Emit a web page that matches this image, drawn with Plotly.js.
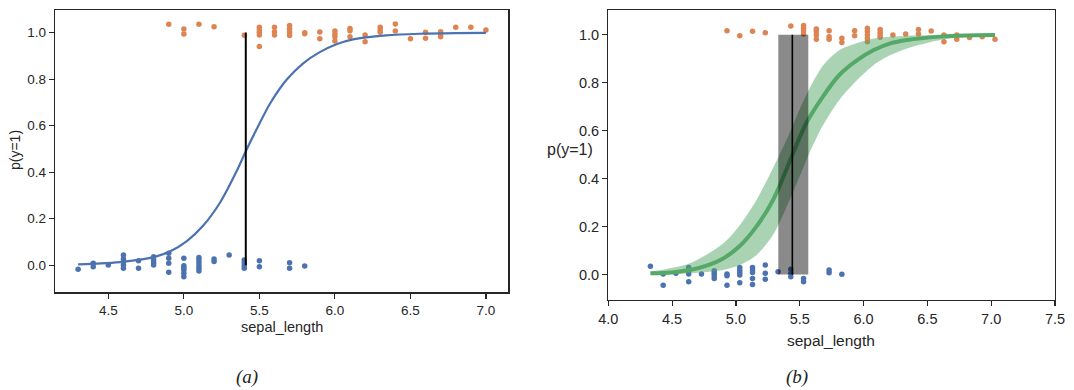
<!DOCTYPE html>
<html>
<head>
<meta charset="utf-8">
<script src="https://cdn.plot.ly/plotly-3.0.1.min.js"></script>
<style>html,body{margin:0;padding:0;background:#fff;}#chart{width:1074px;height:390px;}</style>
</head>
<body>
<div id="chart"></div>
<script>
// ---------- panel (a) ----------
var aClass0X = [4.3, 4.4, 4.4, 4.5, 4.6, 4.6, 4.6, 4.6, 4.6, 4.7, 4.7, 4.8, 4.8, 4.8, 4.8, 4.9, 4.9, 4.9, 4.9, 5.0, 5.0, 5.0, 5.0, 5.0, 5.0, 5.1, 5.1, 5.1, 5.1, 5.1, 5.1, 5.2, 5.2, 5.3, 5.4, 5.4, 5.4, 5.4, 5.5, 5.5, 5.7, 5.7, 5.8];
var aClass0Y = [-0.017, 0.009, -0.006, 0.001, 0.044, 0.027, 0.016, 0.001, -0.013, 0.02, -0.013, 0.037, 0.023, 0.011, 0.001, 0.052, 0.03, 0.009, -0.03, 0.03, -0.002, -0.01, -0.02, -0.034, -0.049, 0.034, 0.023, 0.011, -0.002, -0.013, -0.024, 0.027, 0.016, 0.044, 0.023, 0.011, -0.002, -0.013, 0.02, -0.006, 0.011, -0.013, -0.003];
var aClass1X = [4.9, 5.0, 5.0, 5.1, 5.2, 5.4, 5.5, 5.5, 5.5, 5.5, 5.5, 5.6, 5.6, 5.6, 5.7, 5.7, 5.7, 5.7, 5.8, 5.8, 5.9, 5.9, 6.0, 6.0, 6.0, 6.0, 6.1, 6.1, 6.1, 6.2, 6.2, 6.3, 6.3, 6.3, 6.4, 6.4, 6.5, 6.6, 6.6, 6.7, 6.7, 6.7, 6.8, 6.9, 7.0];
var aClass1Y = [1.036, 1.015, 0.994, 1.036, 1.025, 0.988, 1.023, 1.011, 1.001, 0.99, 0.94, 1.023, 1.004, 0.99, 1.03, 1.015, 1.001, 0.987, 0.999, 0.995, 1.003, 0.973, 1.007, 0.994, 0.982, 0.964, 1.018, 1.008, 0.982, 0.99, 0.961, 1.023, 1.011, 1.001, 1.037, 1.007, 0.974, 1.001, 0.976, 1.004, 0.99, 0.982, 1.023, 1.023, 1.011];
var aCurveX = [4.3, 4.45, 4.58, 4.7, 4.8, 4.91, 5.02, 5.13, 5.24, 5.35, 5.41, 5.48, 5.57, 5.68, 5.79, 5.9, 6.01, 6.12, 6.34, 6.56, 6.8, 7.0];
var aCurveY = [0.004, 0.008, 0.014, 0.023, 0.035, 0.06, 0.104, 0.172, 0.27, 0.405, 0.49, 0.582, 0.694, 0.797, 0.868, 0.916, 0.95, 0.971, 0.988, 0.995, 0.998, 0.999];
var aBoundary = 5.41;

// ---------- panel (b) ----------
var bClass0X = [4.33, 4.43, 4.43, 4.53, 4.63, 4.63, 4.63, 4.63, 4.73, 4.83, 4.83, 4.83, 4.83, 4.93, 4.93, 4.93, 5.03, 5.03, 5.03, 5.03, 5.03, 5.13, 5.13, 5.13, 5.13, 5.13, 5.23, 5.23, 5.23, 5.33, 5.43, 5.43, 5.43, 5.53, 5.53, 5.73, 5.73, 5.83];
var bClass0Y = [0.035, 0.002, -0.044, 0.005, 0.03, 0.016, 0.002, -0.03, 0.002, 0.016, 0.005, -0.005, -0.016, 0.002, -0.005, -0.044, 0.03, 0.019, 0.009, -0.002, -0.034, 0.03, 0.019, 0.009, -0.016, -0.041, 0.04, 0.005, -0.02, 0.012, 0.022, 0.005, -0.009, -0.016, -0.03, 0.019, 0.008, 0.001];
var bClass1X = [4.93, 5.03, 5.13, 5.23, 5.43, 5.53, 5.53, 5.53, 5.53, 5.63, 5.63, 5.63, 5.63, 5.73, 5.73, 5.73, 5.83, 5.83, 5.93, 5.93, 6.03, 6.03, 6.03, 6.03, 6.03, 6.13, 6.13, 6.13, 6.13, 6.23, 6.33, 6.43, 6.43, 6.53, 6.63, 6.63, 6.73, 6.73, 6.83, 6.93, 7.03];
var bClass1Y = [1.017, 0.996, 1.014, 1.008, 1.036, 1.038, 1.027, 1.017, 1.003, 1.024, 1.013, 0.999, 0.981, 1.017, 0.992, 0.981, 0.985, 0.968, 1.017, 0.996, 1.027, 1.013, 0.999, 0.985, 0.971, 1.022, 1.01, 0.999, 0.989, 0.999, 1.003, 1.022, 1.003, 1.015, 0.999, 0.971, 0.999, 0.981, 0.988, 0.992, 0.981];
var bCurveX = [4.33, 4.5, 4.64, 4.77, 4.9, 5.03, 5.16, 5.29, 5.42, 5.45, 5.55, 5.68, 5.81, 5.95, 6.08, 6.21, 6.34, 6.6, 6.8, 7.03];
var bCurveY = [0.005, 0.009, 0.019, 0.037, 0.067, 0.119, 0.2, 0.31, 0.47, 0.51, 0.63, 0.741, 0.832, 0.894, 0.936, 0.964, 0.978, 0.992, 0.997, 0.999];
var bBandX = [4.33, 4.64, 4.9, 5.03, 5.16, 5.29, 5.42, 5.5, 5.57, 5.68, 5.81, 5.95, 6.08, 6.21, 6.34, 6.6, 6.8, 7.03];
var bBandUpper = [0.012, 0.047, 0.13, 0.206, 0.31, 0.443, 0.589, 0.69, 0.77, 0.87, 0.935, 0.965, 0.984, 0.992, 0.996, 0.999, 1.0, 1.0];
var bBandLower = [0.001, 0.005, 0.019, 0.04, 0.081, 0.165, 0.31, 0.41, 0.5, 0.62, 0.728, 0.811, 0.874, 0.915, 0.943, 0.978, 0.99, 0.996];
var bBoundary = 5.442;
var bBoundaryHdi = [5.332, 5.567];

var xTicksA = [4.5, 5.0, 5.5, 6.0, 6.5, 7.0];
var xTicksB = [4.0, 4.5, 5.0, 5.5, 6.0, 6.5, 7.0, 7.5];
var yTicksA = [0.0, 0.2, 0.4, 0.6, 0.8, 1.0];
var yTicksB = [0.0, 0.2, 0.4, 0.6, 0.8, 1.0];

var BLUE = '#4c72b0', ORANGE = '#dd8452', GREEN = '#55a868', INK = '#262626';

function pts(x, y, c, xa, ya) {
  return {x: x, y: y, xaxis: xa, yaxis: ya, type: 'scatter', mode: 'markers',
    marker: {color: c, size: 5.5, line: {width: 0}}, hoverinfo: 'skip', showlegend: false};
}

var traces = [];
// (a)
traces.push(pts(aClass0X, aClass0Y, BLUE, 'x', 'y'));
traces.push(pts(aClass1X, aClass1Y, ORANGE, 'x', 'y'));
traces.push({x: aCurveX, y: aCurveY, xaxis: 'x', yaxis: 'y', type: 'scatter', mode: 'lines',
  line: {color: BLUE, width: 2.2, shape: 'spline', smoothing: 0.8}, showlegend: false});
traces.push({x: [aBoundary, aBoundary], y: [0, 1], xaxis: 'x', yaxis: 'y', type: 'scatter', mode: 'lines',
  line: {color: '#000', width: 2}, showlegend: false});

// (b)
traces.push(pts(bClass0X, bClass0Y, BLUE, 'x2', 'y2'));
traces.push(pts(bClass1X, bClass1Y, ORANGE, 'x2', 'y2'));
traces.push({x: bBandX, y: bBandLower, xaxis: 'x2', yaxis: 'y2', type: 'scatter', mode: 'lines',
  line: {width: 0, shape: 'spline', smoothing: 0.8}, showlegend: false, hoverinfo: 'skip'});
traces.push({x: bBandX, y: bBandUpper, xaxis: 'x2', yaxis: 'y2', type: 'scatter', mode: 'lines',
  fill: 'tonexty', fillcolor: 'rgba(85,168,104,0.5)',
  line: {width: 0, shape: 'spline', smoothing: 0.8}, showlegend: false, hoverinfo: 'skip'});
traces.push({x: bCurveX, y: bCurveY, xaxis: 'x2', yaxis: 'y2', type: 'scatter', mode: 'lines',
  line: {color: GREEN, width: 4, shape: 'spline', smoothing: 0.8}, showlegend: false});
traces.push({x: [bBoundaryHdi[0], bBoundaryHdi[1], bBoundaryHdi[1], bBoundaryHdi[0], bBoundaryHdi[0]],
  y: [0, 0, 1, 1, 0], xaxis: 'x2', yaxis: 'y2', type: 'scatter', mode: 'lines',
  fill: 'toself', fillcolor: 'rgba(0,0,0,0.46)', line: {width: 0}, showlegend: false, hoverinfo: 'skip'});
traces.push({x: [bBoundary, bBoundary], y: [0, 1], xaxis: 'x2', yaxis: 'y2', type: 'scatter', mode: 'lines',
  line: {color: '#000', width: 1.6}, showlegend: false});

function axis(extra) {
  var a = {showgrid: false, zeroline: false, showline: true, mirror: true, linecolor: INK, linewidth: 1.3,
    ticks: 'outside', ticklen: 5, tickwidth: 1.2, tickcolor: INK, tickmode: 'array',
    tickfont: {family: 'Liberation Sans, Arial, sans-serif', size: 13.5, color: INK}, fixedrange: true};
  for (var k in extra) a[k] = extra[k];
  return a;
}
function lab(v) { return v.map(function (t) { return t.toFixed(1); }); }

var fontS = 'Liberation Sans, Arial, sans-serif';
var layout = {
  width: 1074, height: 390, margin: {l: 0, r: 0, t: 0, b: 0},
  paper_bgcolor: '#fff', plot_bgcolor: '#fff', showlegend: false,
  xaxis: axis({domain: [55 / 1074, 508.3 / 1074], range: [4.147, 7.148], tickvals: xTicksA, ticktext: lab(xTicksA), anchor: 'y'}),
  yaxis: axis({domain: [(390 - 292.3) / 390, (390 - 10) / 390], range: [-0.116, 1.097], tickvals: yTicksA, ticktext: lab(yTicksA), anchor: 'x'}),
  xaxis2: axis({domain: [608.3 / 1074, 1055 / 1074], range: [4.0, 7.5], tickvals: xTicksB, ticktext: lab(xTicksB), anchor: 'y2',
    tickfont: {family: fontS, size: 14.5, color: INK}}),
  yaxis2: axis({domain: [(390 - 300) / 390, (390 - 10) / 390], range: [-0.106, 1.103], tickvals: yTicksB, ticktext: lab(yTicksB), anchor: 'x2',
    tickfont: {family: fontS, size: 14.5, color: INK}}),
  annotations: [
    {text: 'sepal_length', xref: 'paper', yref: 'paper', x: 282 / 1074, y: (390 - 327) / 390, showarrow: false,
      xanchor: 'center', yanchor: 'middle', font: {family: fontS, size: 14.5, color: INK}},
    {text: 'p(y=1)', xref: 'paper', yref: 'paper', x: 15 / 1074, y: (390 - 150) / 390, showarrow: false, textangle: -90,
      xanchor: 'center', yanchor: 'middle', font: {family: fontS, size: 14, color: INK}},
    {text: 'sepal_length', xref: 'paper', yref: 'paper', x: 831 / 1074, y: (390 - 340) / 390, showarrow: false,
      xanchor: 'center', yanchor: 'middle', font: {family: fontS, size: 15.5, color: INK}},
    {text: 'p(y=1)', xref: 'paper', yref: 'paper', x: 570 / 1074, y: (390 - 149) / 390, showarrow: false,
      xanchor: 'center', yanchor: 'middle', font: {family: fontS, size: 16, color: INK}},
    {text: '<i>(a)</i>', xref: 'paper', yref: 'paper', x: 247 / 1074, y: (390 - 377) / 390, showarrow: false,
      xanchor: 'center', yanchor: 'middle', font: {family: 'Liberation Serif, Times New Roman, serif', size: 19, color: '#222'}},
    {text: '<i>(b)</i>', xref: 'paper', yref: 'paper', x: 797 / 1074, y: (390 - 377) / 390, showarrow: false,
      xanchor: 'center', yanchor: 'middle', font: {family: 'Liberation Serif, Times New Roman, serif', size: 19, color: '#222'}}
  ]
};

Plotly.newPlot('chart', traces, layout, {displayModeBar: false, staticPlot: true});
</script>
</body>
</html>
